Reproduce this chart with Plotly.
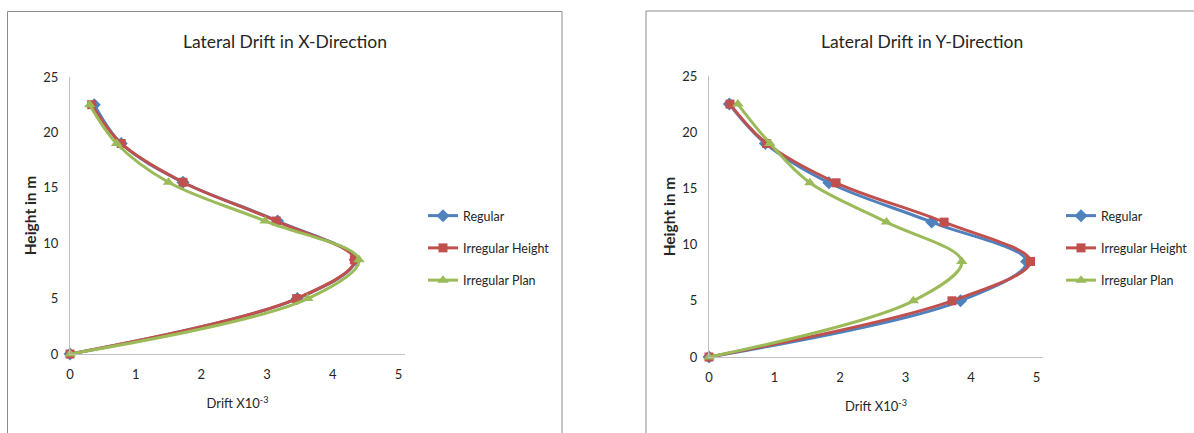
import plotly.graph_objects as go

heights = [0, 5, 8.5, 12, 15.5, 19, 22.5]

x_regular = [0, 3.46, 4.34, 3.16, 1.72, 0.78, 0.37]
x_irr_height = [0, 3.45, 4.33, 3.14, 1.72, 0.78, 0.33]
x_irr_plan = [0, 3.62, 4.40, 2.97, 1.50, 0.71, 0.30]

y_regular = [0, 3.84, 4.85, 3.40, 1.83, 0.86, 0.31]
y_irr_height = [0, 3.71, 4.91, 3.59, 1.94, 0.88, 0.32]
y_irr_plan = [0, 3.12, 3.86, 2.71, 1.54, 0.93, 0.44]

series_names = ["Regular", "Irregular Height", "Irregular Plan"]
colors = ["#4F81BD", "#C0504D", "#9BBB59"]
symbols = ["diamond", "square", "triangle-up"]
msizes = [10, 9, 10]

titles = ["Lateral Drift in X-Direction", "Lateral Drift in Y-Direction"]
x_title = "Drift X10<sup>-3</sup>"
y_title = "Height in m"
x_ticks = [0, 1, 2, 3, 4, 5]
y_ticks = [0, 5, 10, 15, 20, 25]

W, H = 1194, 433
FONT = "Lato"
TXT = "#262626"

fig = go.Figure()

datasets = [
    [x_regular, x_irr_height, x_irr_plan],
    [y_regular, y_irr_height, y_irr_plan],
]
for ci, ds in enumerate(datasets):
    xa = "x" if ci == 0 else "x2"
    ya = "y" if ci == 0 else "y2"
    leg = "legend" if ci == 0 else "legend2"
    for si, vals in enumerate(ds):
        fig.add_trace(go.Scatter(
            x=vals, y=heights, name=series_names[si],
            mode="lines+markers",
            line=dict(color=colors[si], width=3, shape="spline", smoothing=1.0),
            marker=dict(color=colors[si], symbol=symbols[si], size=msizes[si]),
            xaxis=xa, yaxis=ya, legend=leg, legendgroup=f"g{ci}{si}",
            cliponaxis=False,
        ))

def px(v):
    return v / W

def py(v):
    return (H - v) / H

axis_common = dict(
    showgrid=False, zeroline=False, showline=True, linecolor="#BFBFBF", linewidth=1,
    ticks="", tickfont=dict(family=FONT, size=13, color=TXT), fixedrange=True,
    automargin=False,
)
xt_font = dict(family=FONT, size=13, color=TXT)
yt_font = dict(family=FONT, size=15.5, color=TXT, weight="bold")
leg_font = dict(family=FONT, size=12.5, color=TXT)

fig.update_layout(
    template="none",
    width=W, height=H, margin=dict(l=0, r=0, t=0, b=0, pad=0, autoexpand=False),
    paper_bgcolor="white", plot_bgcolor="white",
    font=dict(family=FONT, color=TXT),
    xaxis=dict(domain=[px(70), px(405)], range=[0, 5.1], tickvals=x_ticks, anchor="y",
               title=dict(text=x_title, font=xt_font, standoff=18),
               ticklabelstandoff=8, **axis_common),
    yaxis=dict(domain=[py(354), py(77)], range=[0, 25], tickvals=y_ticks, anchor="x",
               title=dict(text=y_title, font=yt_font, standoff=2),
               ticklabelstandoff=8, **axis_common),
    xaxis2=dict(domain=[px(709), px(1043)], range=[0, 5.1], tickvals=x_ticks, anchor="y2",
                title=dict(text=x_title, font=xt_font, standoff=18),
                ticklabelstandoff=8, **axis_common),
    yaxis2=dict(domain=[py(357), py(76)], range=[0, 25], tickvals=y_ticks, anchor="x2",
                title=dict(text=y_title, font=yt_font, standoff=2),
                ticklabelstandoff=8, **axis_common),
    legend=dict(x=px(423), y=py(201), xanchor="left", yanchor="top",
                font=leg_font, tracegroupgap=13,
                bgcolor="rgba(0,0,0,0)", borderwidth=0),
    legend2=dict(x=px(1061), y=py(201), xanchor="left", yanchor="top",
                 font=leg_font, tracegroupgap=13,
                 bgcolor="rgba(0,0,0,0)", borderwidth=0),
    showlegend=True,
    annotations=[
        dict(text=titles[0], x=px(285), y=py(42), xref="paper", yref="paper",
             showarrow=False, font=dict(family=FONT, size=17.5, color=TXT), xanchor="center", yanchor="middle"),
        dict(text=titles[1], x=px(922), y=py(41), xref="paper", yref="paper",
             showarrow=False, font=dict(family=FONT, size=17.5, color=TXT), xanchor="center", yanchor="middle"),
    ],
    shapes=[
        dict(type="rect", xref="paper", yref="paper", x0=px(7.5), x1=px(562), y0=-0.05, y1=py(11.5),
             line=dict(color="#8C8C8C", width=1), fillcolor="rgba(0,0,0,0)", layer="below"),
        dict(type="rect", xref="paper", yref="paper", x0=px(646), x1=1.05, y0=-0.05, y1=py(11),
             line=dict(color="#8C8C8C", width=1), fillcolor="rgba(0,0,0,0)", layer="below"),
    ],
)

fig.write_html(
    "out.html",
    post_script="document.body.style.margin='0';document.body.style.overflow='hidden';",
)
